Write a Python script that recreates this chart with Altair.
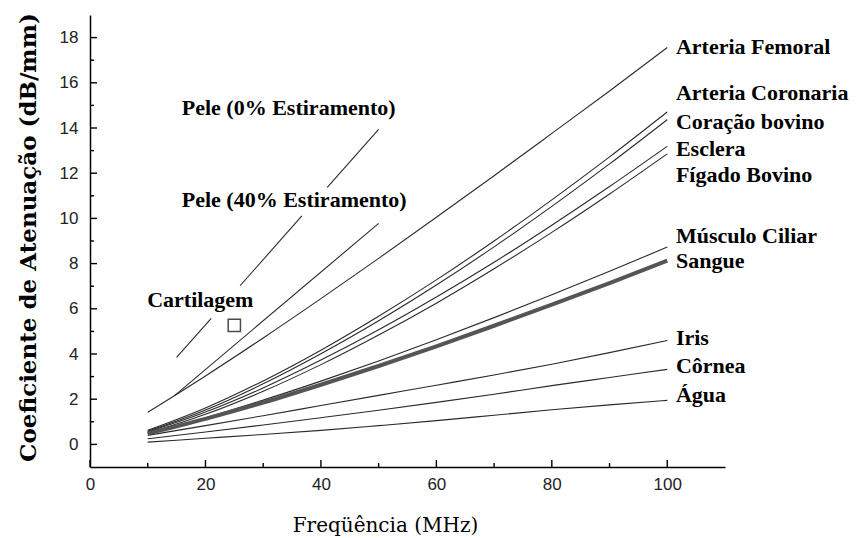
import altair as alt
import pandas as pd

# ---- data ----
freq = [10, 20, 30, 40, 50, 60, 70, 80, 90, 100]
femoral = [1.42, 3.03, 4.71, 6.45, 8.23, 10.05, 11.89, 13.76, 15.64, 17.56]
coronaria = [0.62, 1.61, 2.81, 4.17, 5.67, 7.28, 9.00, 10.82, 12.72, 14.71]
coracao = [0.58, 1.52, 2.68, 4.01, 5.47, 7.05, 8.74, 10.53, 12.41, 14.37]
esclera = [0.55, 1.43, 2.50, 3.73, 5.07, 6.52, 8.06, 9.70, 11.41, 13.19]
figado = [0.50, 1.33, 2.35, 3.53, 4.84, 6.25, 7.77, 9.38, 11.08, 12.86]
musculo = [0.50, 1.18, 1.96, 2.80, 3.69, 4.63, 5.61, 6.62, 7.66, 8.73]
sangue = [0.48, 1.13, 1.85, 2.64, 3.47, 4.34, 5.25, 6.18, 7.14, 8.13]
iris = [0.40, 0.83, 1.27, 1.72, 2.17, 2.62, 3.07, 3.55, 4.06, 4.60]
cornea = [0.25, 0.55, 0.86, 1.18, 1.51, 1.86, 2.22, 2.60, 2.96, 3.32]
agua = [0.10, 0.27, 0.44, 0.62, 0.83, 1.05, 1.29, 1.53, 1.75, 1.95]

# skin lines (broken where labels sit)
pele0_x = [15, 21, 26, 36.7, 41.1, 50]
pele0_y = [3.85, 5.58, 7.02, 10.11, 11.37, 13.94]
pele0_seg = [1, 1, 2, 2, 3, 3]
pele40_x = [14.7, 50]
pele40_y = [2.17, 9.78]

cart_x = [25]
cart_y = [5.27]

right_names = ["Arteria Femoral", "Arteria Coronaria", "Coração bovino", "Esclera",
               "Fígado Bovino", "Músculo Ciliar", "Sangue", "Iris", "Côrnea", "Água"]
right_label_y = [17.57, 15.53, 14.25, 13.05, 11.9, 9.2, 8.1, 4.73, 3.45, 2.17]
left_names = ["Pele (0% Estiramento)", "Pele (40% Estiramento)", "Cartilagem"]
left_label_x = [15.9, 15.9, 9.9]
left_label_y = [14.87, 10.8, 6.37]

x_ticks = [0, 20, 40, 60, 80, 100]
x_minor = [10, 30, 50, 70, 90]
y_ticks = [0, 2, 4, 6, 8, 10, 12, 14, 16, 18]
y_minor = [1, 3, 5, 7, 9, 11, 13, 15, 17]

X_MIN, X_MAX = 0, 110
Y_MIN, Y_MAX = -1, 19

# ---- tables ----
rows = []
for name, vals in [("Arteria Femoral", femoral), ("Arteria Coronaria", coronaria),
                   ("Coração bovino", coracao), ("Esclera", esclera),
                   ("Fígado Bovino", figado), ("Músculo Ciliar", musculo),
                   ("Iris", iris), ("Côrnea", cornea), ("Água", agua)]:
    for f, v in zip(freq, vals):
        rows.append({"serie": name, "seg": 0, "x": f, "y": v})
for f, v, s in zip(pele0_x, pele0_y, pele0_seg):
    rows.append({"serie": "Pele 0", "seg": s, "x": f, "y": v})
for f, v in zip(pele40_x, pele40_y):
    rows.append({"serie": "Pele 40", "seg": 0, "x": f, "y": v})
lines_df = pd.DataFrame(rows)
sangue_df = pd.DataFrame({"x": freq, "y": sangue})
cart_df = pd.DataFrame({"x": cart_x, "y": cart_y})
lab_r = pd.DataFrame({"t": right_names, "x": [101.5] * len(right_names), "y": right_label_y})
lab_l = pd.DataFrame({"t": left_names, "x": left_label_x, "y": left_label_y})

W, H = 635, 452
# inward tick lengths (pixels) expressed in data units of each scale
xu = (X_MAX - X_MIN) / W
yu = (Y_MAX - Y_MIN) / H
xt = pd.DataFrame({
    "x": x_ticks + x_minor,
    "y": [Y_MIN] * (len(x_ticks) + len(x_minor)),
    "y2": [Y_MIN + 7 * yu] * len(x_ticks) + [Y_MIN + 4 * yu] * len(x_minor),
})
yt = pd.DataFrame({
    "y": y_ticks + y_minor,
    "x": [X_MIN] * (len(y_ticks) + len(y_minor)),
    "x2": [X_MIN + 7 * xu] * len(y_ticks) + [X_MIN + 4 * xu] * len(y_minor),
})

xscale = alt.Scale(domain=[X_MIN, X_MAX], nice=False, zero=False)
yscale = alt.Scale(domain=[Y_MIN, Y_MAX], nice=False, zero=False)
xaxis = alt.Axis(values=x_ticks, title="Freqüência (MHz)", titleX=295, titleY=64,
                 titleBaseline="alphabetic", titleAlign="center",
                 titleFont="DejaVu Serif", titleFontSize=20, titleFontWeight="normal",
                 labelPadding=9, labelFlush=False)
yaxis = alt.Axis(values=y_ticks, title="Coeficiente de Atenuação (dB/mm)", titleX=-62,
                 titleY=222, titleAngle=270, titleAlign="center", titleBaseline="middle",
                 titleFont="DejaVu Serif", titleFontSize=23, titleFontWeight="bold",
                 labelPadding=12, labelFlush=False)


def X(field="x"):
    return alt.X(f"{field}:Q", scale=xscale, axis=xaxis)


def Y(field="y"):
    return alt.Y(f"{field}:Q", scale=yscale, axis=yaxis)


lines = alt.Chart(lines_df).mark_line(color="#2a2a2a", strokeWidth=1.1,
                                      interpolate="monotone").encode(
    x=X(), y=Y(), detail=["serie:N", "seg:N"])
blood = alt.Chart(sangue_df).mark_line(color="#555555", strokeWidth=4,
                                       interpolate="monotone").encode(x=X(), y=Y())
cart = alt.Chart(cart_df).mark_point(shape="square", filled=False, size=150,
                                     color="black", strokeWidth=1.5).encode(x=X(), y=Y())
txt_style = dict(align="left", baseline="middle", font="Liberation Serif",
                 fontWeight="bold", fontSize=22, color="black")
lr = alt.Chart(lab_r).mark_text(**txt_style).encode(x=X(), y=Y(), text="t:N")
ll = alt.Chart(lab_l).mark_text(**txt_style).encode(x=X(), y=Y(), text="t:N")

xtick = alt.Chart(xt).mark_rule(color="black", strokeWidth=1.4).encode(
    x=X(), y=Y(), y2="y2:Q")
ytick = alt.Chart(yt).mark_rule(color="black", strokeWidth=1.4).encode(
    y=Y(), x=X(), x2="x2:Q")

chart = alt.layer(lines, blood, cart, lr, ll, xtick, ytick).properties(
    width=W, height=H,
    padding={"left": 82, "top": 7, "right": 125, "bottom": 70},
    autosize="none",
).configure_view(strokeWidth=0).configure_axis(
    grid=False, domainColor="black", domainWidth=1.5, tickSize=0,
    labelFont="Liberation Sans", labelFontSize=17, labelColor="#222222",
    titleColor="black",
)

chart.save("out.html", embed_options={"renderer": "svg", "actions": False})
